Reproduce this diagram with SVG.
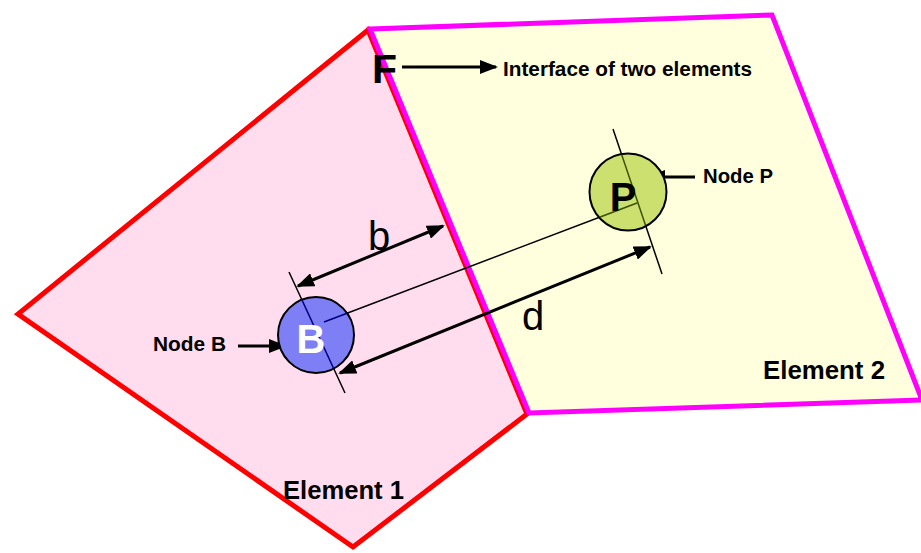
<svg xmlns="http://www.w3.org/2000/svg" width="921" height="553" viewBox="0 0 921 553">
<style>
.lbl{font-family:"Liberation Sans",Arial,sans-serif;font-weight:bold;fill:#000}
.dim{font-family:"Liberation Sans",Arial,sans-serif;fill:#000}
.arr{stroke:#000;stroke-width:3;fill:none}
.nrm{stroke:#000;stroke-width:1.5;fill:none}
</style>
<defs>
<marker id="ah" viewBox="0 0 18 14" refX="16" refY="7" markerWidth="18" markerHeight="14" markerUnits="userSpaceOnUse" orient="auto-start-reverse">
<path d="M0,0 L18,7 L0,14 z" fill="#000"/>
</marker>
<clipPath id="cB"><circle cx="316" cy="335" r="37.5"/></clipPath>
<clipPath id="cP"><circle cx="628" cy="192" r="38"/></clipPath>
</defs>
<rect width="921" height="553" fill="#fff"/>
<g id="element1">
<polygon points="368,30 18,314 353,547 527,414" fill="#FFDDEE" stroke="#FF0000" stroke-width="5" stroke-linejoin="miter"/>
</g>
<g id="element2">
<polygon points="370,29 772,15 922,400 529,413" fill="#FFFFDD" stroke="#FF00FF" stroke-width="5" stroke-linejoin="miter"/>
</g>
<g id="connectors">
<line class="nrm" x1="289" y1="272" x2="345" y2="393"/>
<line class="nrm" x1="613" y1="129" x2="662" y2="274"/>
<line class="nrm" x1="324" y1="322" x2="637" y2="203" stroke-width="1.8"/>
<line class="arr" x1="298" y1="286" x2="443" y2="226" marker-start="url(#ah)" marker-end="url(#ah)"/>
<line class="arr" x1="340" y1="373" x2="650" y2="247" marker-start="url(#ah)" marker-end="url(#ah)"/>
<line class="arr" x1="402" y1="67" x2="496" y2="67" marker-end="url(#ah)"/>
<line class="arr" x1="238" y1="346" x2="285" y2="346" marker-end="url(#ah)"/>
<line class="arr" x1="695" y1="177" x2="649" y2="177" marker-end="url(#ah)"/>
</g>
<g id="nodeB">
<circle cx="316" cy="335" r="38" fill="#7F7FF5" stroke="#000" stroke-width="2"/>
<g clip-path="url(#cB)" stroke="#000080" stroke-width="1.5">
<line x1="289" y1="272" x2="345" y2="393"/>
<line x1="324" y1="322" x2="637" y2="203"/>
</g>
<text x="311" y="353" font-family="Liberation Sans,Arial,sans-serif" font-weight="bold" font-size="40" fill="#fff" text-anchor="middle">B</text>
</g>
<g id="nodeP">
<circle cx="628" cy="192" r="38.5" fill="#CCE070" stroke="#000" stroke-width="2"/>
<g clip-path="url(#cP)" stroke="#3F5000" stroke-width="1.5">
<line x1="613" y1="129" x2="662" y2="274"/>
<line x1="324" y1="322" x2="637" y2="203"/>
</g>
<text x="623" y="211" class="lbl" font-size="40" text-anchor="middle">P</text>
</g>
<g id="labels">
<text x="372" y="83" class="lbl" font-size="41">F</text>
<text x="503" y="76" class="lbl" font-size="20" textLength="249" lengthAdjust="spacingAndGlyphs">Interface of two elements</text>
<text x="153" y="351" class="lbl" font-size="20" textLength="73" lengthAdjust="spacingAndGlyphs">Node B</text>
<text x="703" y="183" class="lbl" font-size="20" textLength="70" lengthAdjust="spacingAndGlyphs">Node P</text>
<text x="763" y="379" class="lbl" font-size="25" textLength="122" lengthAdjust="spacingAndGlyphs">Element 2</text>
<text x="283" y="499" class="lbl" font-size="25" textLength="121" lengthAdjust="spacingAndGlyphs">Element 1</text>
<text x="368" y="250" class="dim" font-size="40">b</text>
<text x="522" y="330" class="dim" font-size="40">d</text>
</g>
</svg>
